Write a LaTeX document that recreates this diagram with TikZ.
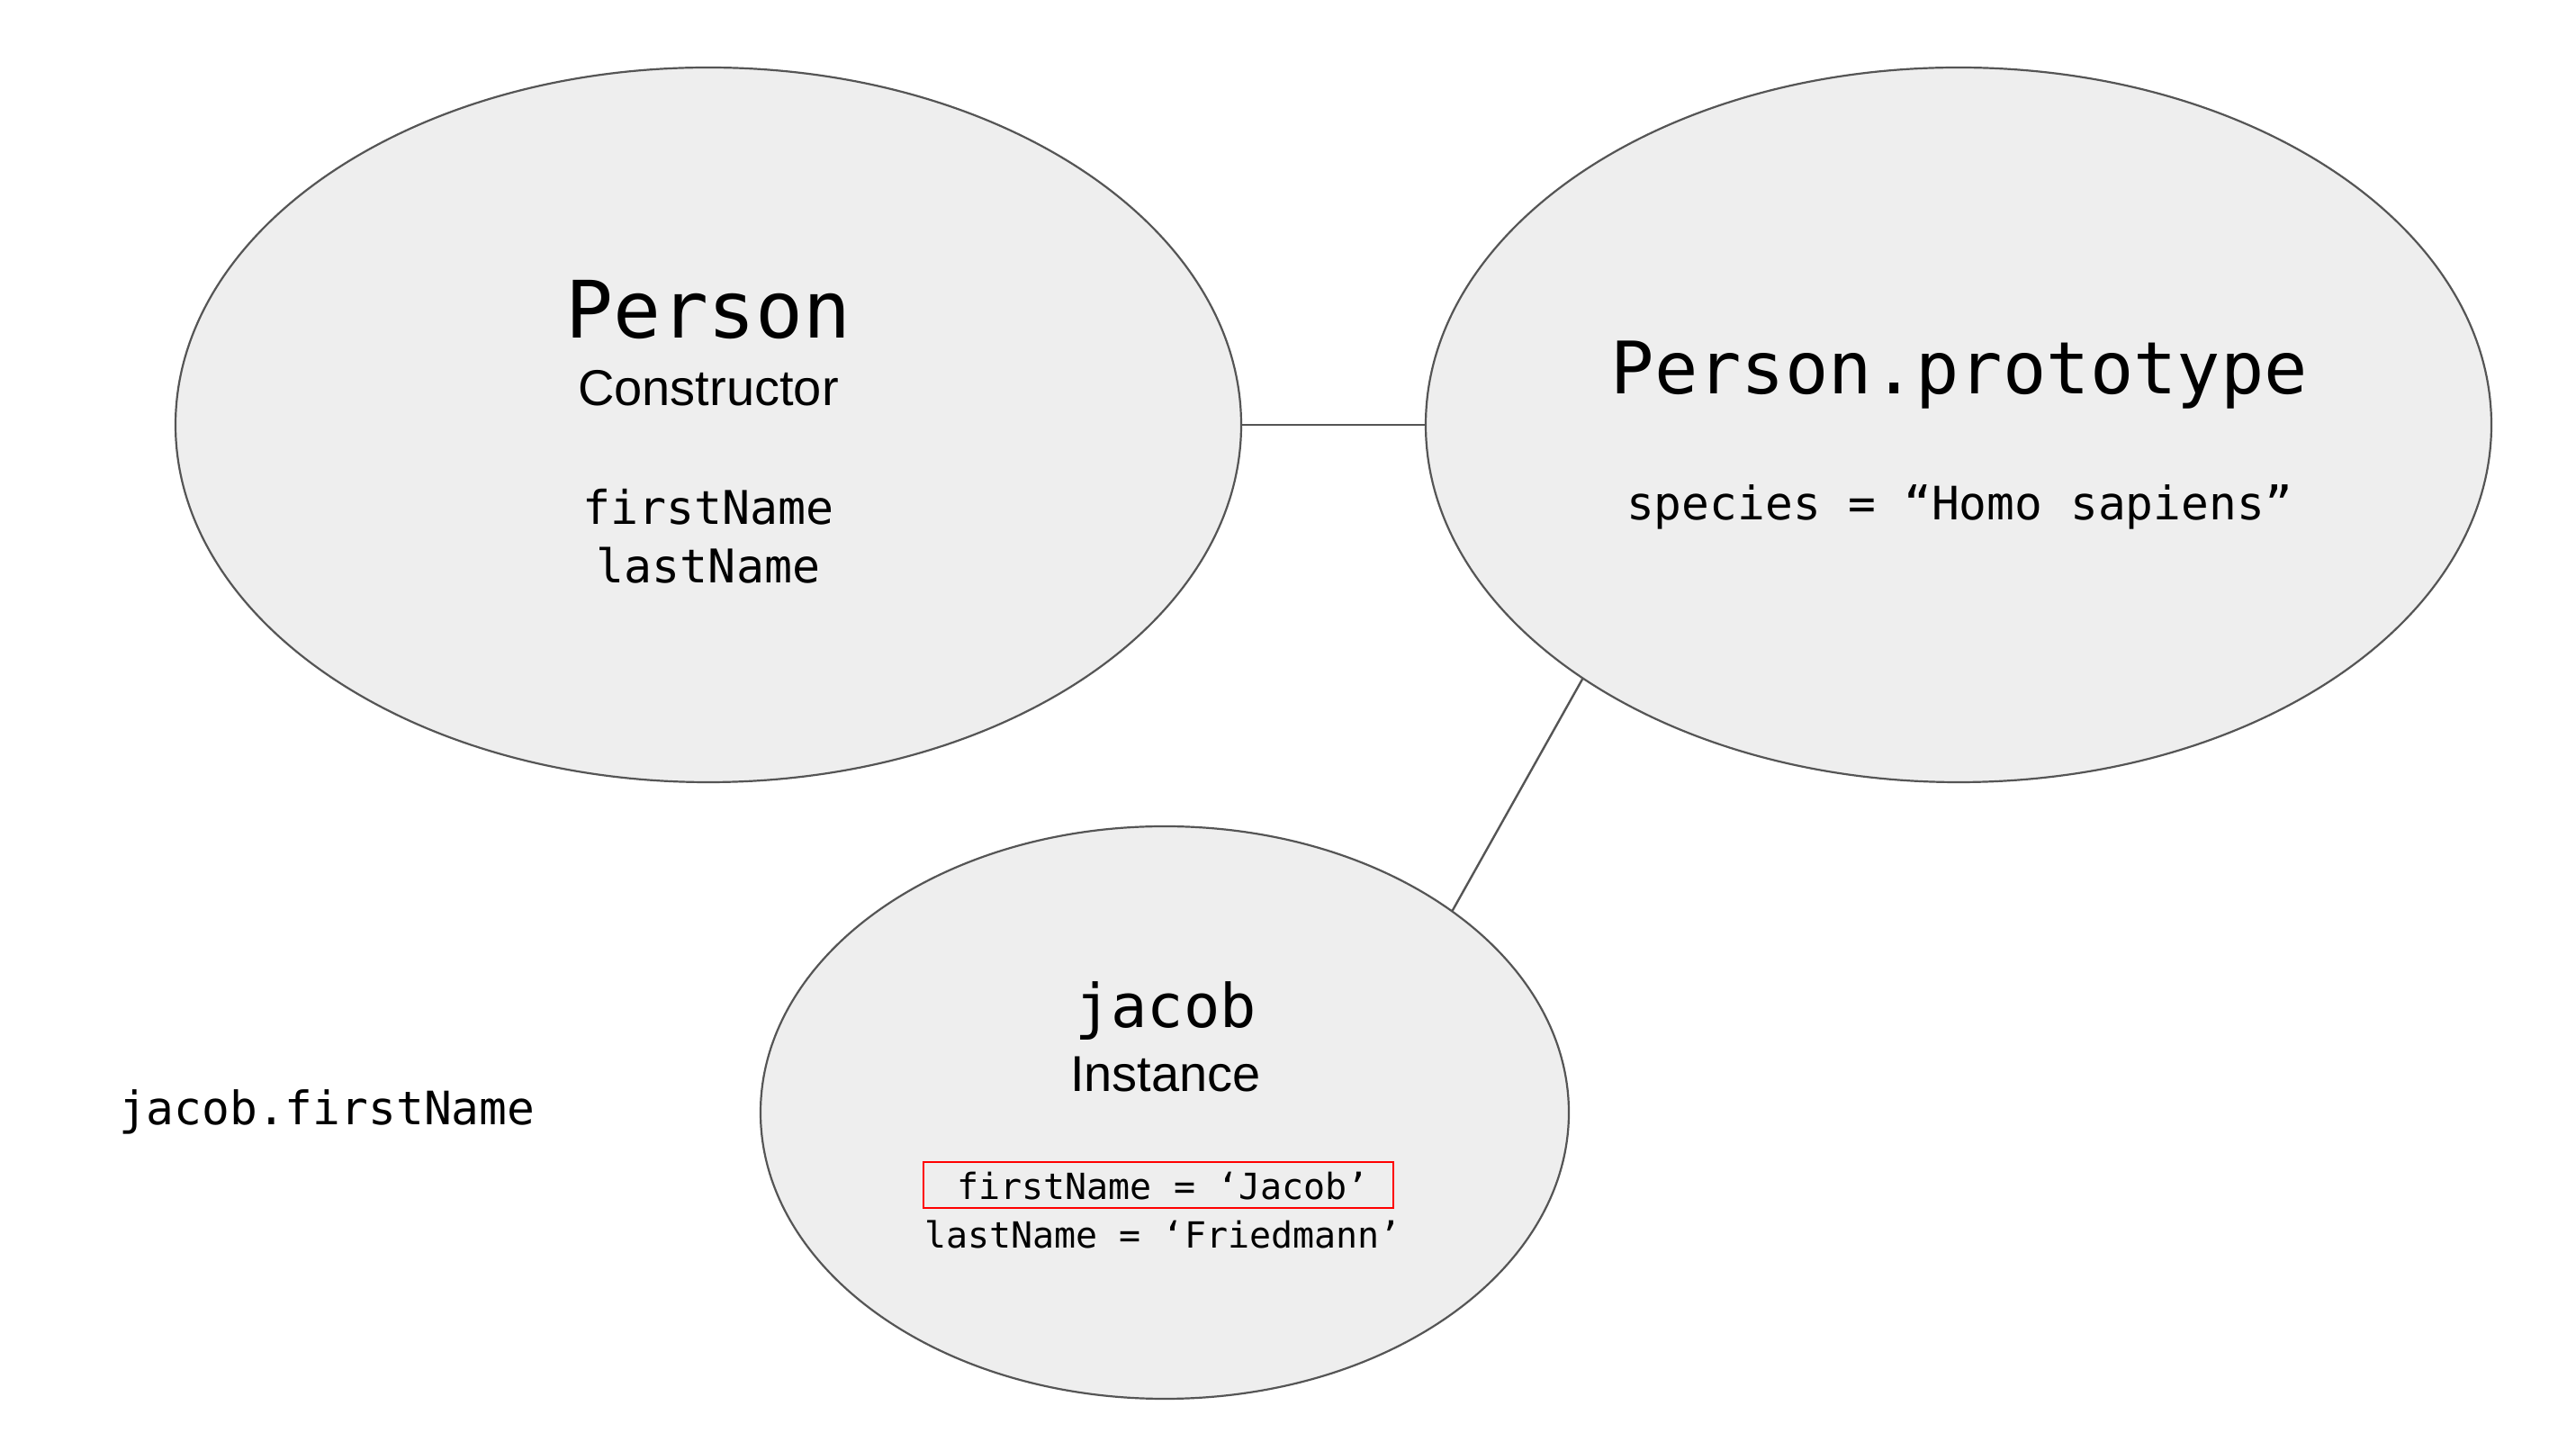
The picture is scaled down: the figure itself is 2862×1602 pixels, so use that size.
\documentclass[tikz,border=0pt]{standalone}
\usepackage{fontspec}
\setmainfont{Liberation Sans}
\setmonofont{DejaVu Sans Mono}
\usetikzlibrary{shapes.geometric}
\definecolor{edge}{HTML}{555555}
\definecolor{bubble}{HTML}{EEEEEE}
\tikzset{
  bub/.style={ellipse, draw=edge, fill=bubble, line width=0.55pt, inner sep=0pt, outer sep=0pt},
  txt/.style={anchor=base, inner sep=0pt, outer sep=0pt, text=black},
  link/.style={draw=edge, line width=0.6pt},
  hlbox/.style={draw=red, line width=0.55pt, inner sep=0pt, outer sep=0pt}
}
\begin{document}
\begin{tikzpicture}[x=0.25pt, y=-0.25pt]
\useasboundingbox[fill=white] (0,0) rectangle (2862,1602);
% ellipses
\node[bub, minimum width=296pt, minimum height=198.5pt] (ctor) at (787,472) {};
\node[bub, minimum width=296pt, minimum height=198.5pt] (proto) at (2176,472) {};
\node[bub, minimum width=224.5pt, minimum height=159pt] (inst) at (1294,1236) {};
% connectors
\draw[link] (ctor.east) -- (proto.west);
\draw[link] (proto.214.2) -- (inst.35.0);
% constructor texts
\node[txt, font=\ttfamily\fontsize{22}{26}\selectfont] (tPerson) at (787,376) {Person};
\node[txt, font=\fontsize{14}{17}\selectfont] (tCtor) at (787,451) {Constructor};
\node[txt, font=\ttfamily\fontsize{12.9}{16}\selectfont] (tFirst) at (787,583) {firstName};
\node[txt, font=\ttfamily\fontsize{12.9}{16}\selectfont] (tLast) at (787,648) {lastName};
% prototype texts
\node[txt, font=\ttfamily\fontsize{20.1}{24}\selectfont] (tProto) at (2177,438) {Person.prototype};
\node[txt, font=\ttfamily\fontsize{12.8}{16}\selectfont] (tSpecies) at (2177,578) {species = “Homo sapiens”};
% instance texts
\node[txt, font=\ttfamily\fontsize{16.75}{20}\selectfont] (tJacob) at (1295,1142) {jacob};
\node[txt, font=\fontsize{14}{17}\selectfont] (tInst) at (1295,1213) {Instance};
\node[hlbox, minimum width=130.5pt, minimum height=12.75pt] (hl) at (1287,1316.5) {};
\node[txt, font=\ttfamily\fontsize{10}{12}\selectfont] (tFirstJ) at (1292,1333) {firstName = ‘Jacob’};
\node[txt, font=\ttfamily\fontsize{10}{12}\selectfont] (tLastJ) at (1292,1387) {lastName = ‘Friedmann’};
% free label
\node[txt, anchor=base west, font=\ttfamily\fontsize{12.8}{16}\selectfont] (tAccess) at (132,1250) {jacob.firstName};
\end{tikzpicture}
\end{document}
